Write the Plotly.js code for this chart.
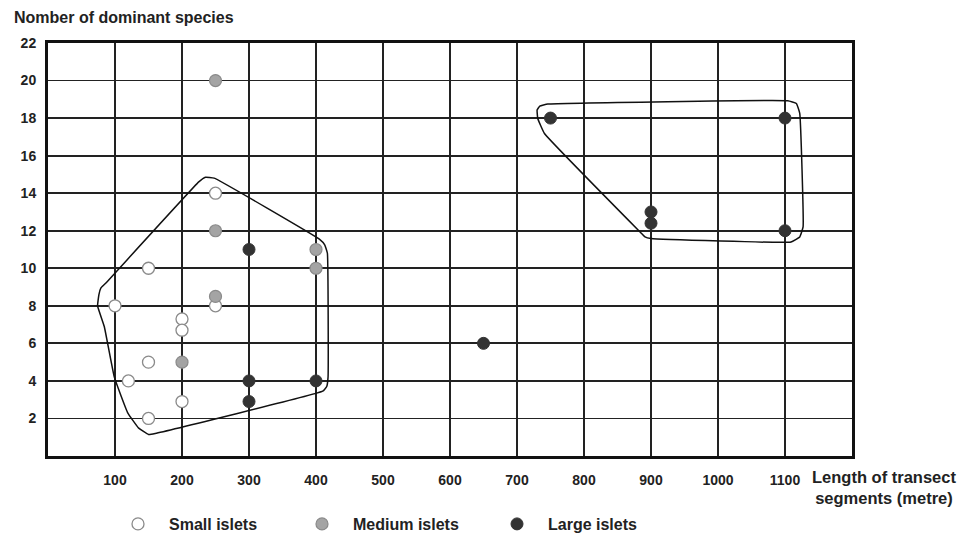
<!DOCTYPE html>
<html>
<head>
<meta charset="utf-8">
<script src="https://cdn.plot.ly/plotly-3.0.1.min.js"></script>
<style>html,body{margin:0;padding:0;background:#fff;}#chart{width:957px;height:539px;}</style>
</head>
<body>
<div id="chart"></div>
<script>
// Data
var smallX = [250, 150, 100, 250, 200, 200, 150, 120, 200, 150];
var smallY = [14, 10, 8, 8, 7.3, 6.7, 5, 4, 2.9, 2];
var mediumX = [250, 250, 400, 400, 250, 200];
var mediumY = [20, 12, 11, 10, 8.5, 5];
var largeX = [300, 300, 400, 300, 650, 750, 1100, 1100, 900, 900];
var largeY = [11, 4, 4, 2.9, 6, 18, 18, 12, 13, 12.4];

// Hand-drawn outlines grouping the islets
var leftOutlineX = [225, 235, 248, 405, 413, 417, 418, 416, 410, 160, 150, 135, 119, 99, 84, 74, 76, 79, 86, 225];
var leftOutlineY = [14.6, 14.85, 14.8, 11.55, 11.25, 10.8, 4.2, 3.7, 3.45, 1.2, 1.15, 1.5, 2.3, 4.2, 6.9, 8.0, 8.6, 8.95, 9.2, 14.6];
var rightOutlineX = [746, 1104, 1117, 1122, 1127, 1122, 1109, 900, 891, 886, 741, 731, 730, 734, 746];
var rightOutlineY = [18.75, 18.92, 18.78, 18.25, 12.2, 11.67, 11.4, 11.58, 11.67, 11.85, 17.18, 17.98, 18.43, 18.64, 18.75];

var xTicks = [100, 200, 300, 400, 500, 600, 700, 800, 900, 1000, 1100];
var yTicks = [2, 4, 6, 8, 10, 12, 14, 16, 18, 20, 22];

var seriesNames = ['Small islets', 'Medium islets', 'Large islets'];

var F = 'Liberation Sans, Arial, sans-serif';

var traces = [
  {x: leftOutlineX, y: leftOutlineY, mode: 'lines', line: {color: '#111', width: 1.5, shape: 'spline', smoothing: 0.3}, showlegend: false, hoverinfo: 'skip'},
  {x: rightOutlineX, y: rightOutlineY, mode: 'lines', line: {color: '#111', width: 1.5, shape: 'spline', smoothing: 0.3}, showlegend: false, hoverinfo: 'skip'},
  {x: smallX, y: smallY, mode: 'markers', name: seriesNames[0], legend: 'legend',
   marker: {size: 12, color: '#ffffff', line: {color: '#8a8a8a', width: 1.3}}},
  {x: mediumX, y: mediumY, mode: 'markers', name: seriesNames[1], legend: 'legend2',
   marker: {size: 12, color: '#a4a4a4', line: {color: '#8a8a8a', width: 1.2}}},
  {x: largeX, y: largeY, mode: 'markers', name: seriesNames[2], legend: 'legend3',
   marker: {size: 12, color: '#333333', line: {color: '#333333', width: 1}}}
];

var legBase = {orientation: 'h', bgcolor: 'rgba(0,0,0,0)', borderwidth: 0, itemwidth: 52,
  xref: 'container', yref: 'container',
  yanchor: 'middle', y: 15 / 539, xanchor: 'left', font: {family: F, size: 16, weight: 'bold', color: '#222'}};
function leg(px) { var o = JSON.parse(JSON.stringify(legBase)); o.x = px / 957; return o; }

var tf = {family: F, size: 14, weight: 'bold', color: '#222'};

var layout = {
  width: 957, height: 539,
  margin: {l: 48, r: 105, t: 43, b: 83},
  paper_bgcolor: '#fff', plot_bgcolor: '#fff',
  xaxis: {
    range: [0, 1200], tickvals: xTicks, ticktext: xTicks.map(String), automargin: false,
    showgrid: true, gridcolor: '#222', gridwidth: 1.8,
    showline: true, mirror: true, linecolor: '#111', linewidth: 3,
    zeroline: false, ticks: '', ticklabelstandoff: 9, tickfont: tf
  },
  yaxis: {
    range: [0, 22], tickvals: yTicks, ticktext: yTicks.map(String), automargin: false,
    showgrid: true, gridcolor: '#222', gridwidth: 1.8,
    showline: true, mirror: true, linecolor: '#111', linewidth: 3,
    zeroline: false, ticks: '', ticklabelstandoff: 6, tickfont: tf
  },
  legend: leg(107),
  legend2: leg(291),
  legend3: leg(486),
  annotations: [
    {xref: 'paper', yref: 'paper', x: (12 - 48) / 804, y: (456 - 17) / 413, xanchor: 'left', yanchor: 'middle', showarrow: false,
     text: 'Nomber of dominant species', font: {family: F, size: 16, weight: 'bold', color: '#222'}},
    {xref: 'paper', yref: 'paper', x: (884 - 48) / 804, y: (456 - 488) / 413, xanchor: 'center', yanchor: 'middle', showarrow: false, align: 'center',
     text: 'Length of transect<br>segments (metre)', font: {family: F, size: 16.5, weight: 'bold', color: '#222'}}
  ],
  showlegend: true
};

Plotly.newPlot('chart', traces, layout, {displayModeBar: false, staticPlot: true});
</script>
</body>
</html>
